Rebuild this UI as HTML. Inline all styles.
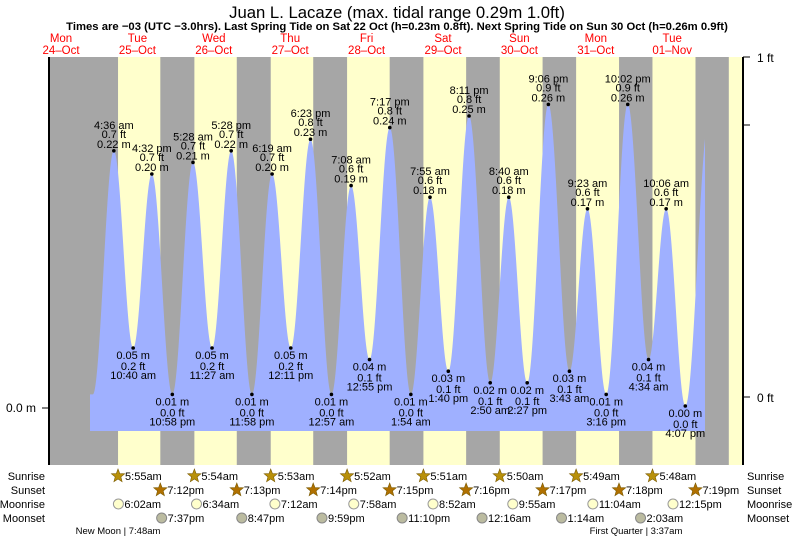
<!DOCTYPE html>
<html><head><meta charset="utf-8"><style>
body{margin:0;background:#fff}
svg{display:block;font-family:"Liberation Sans",sans-serif}
</style></head><body>
<svg id="c" width="793" height="539" viewBox="0 0 793 539"></svg>
<script>
const dayLabels=["Mon","Tue","Wed","Thu","Fri","Sat","Sun","Mon","Tue"];
const dateLabels=["24-Oct","25-Oct","26-Oct","27-Oct","28-Oct","29-Oct","30-Oct","31-Oct","01-Nov"];
const tideDays=[0,1,1,1,1,2,2,2,2,3,3,3,4,4,4,4,5,5,5,5,6,6,6,6,7,7,7,7,8,8,8,8];
const tideTimes=["10:00 pm","4:36 am","10:40 am","4:32 pm","10:58 pm","5:28 am","11:27 am","5:28 pm","11:58 pm","6:19 am","12:11 pm","6:23 pm","12:57 am","7:08 am","12:55 pm","7:17 pm","1:54 am","7:55 am","1:40 pm","8:11 pm","2:50 am","8:40 am","2:27 pm","9:06 pm","3:43 am","9:23 am","3:16 pm","10:02 pm","4:34 am","10:06 am","4:07 pm","11:40 pm"];
const tideMetres=[0.01,0.22,0.05,0.20,0.01,0.21,0.05,0.22,0.01,0.20,0.05,0.23,0.01,0.19,0.04,0.24,0.01,0.18,0.03,0.25,0.02,0.18,0.02,0.26,0.03,0.17,0.01,0.26,0.04,0.17,0.00,0.25];
const tideFeet=["0.0","0.7","0.2","0.7","0.0","0.7","0.2","0.7","0.0","0.7","0.2","0.8","0.0","0.6","0.1","0.8","0.0","0.6","0.1","0.8","0.1","0.6","0.1","0.9","0.1","0.6","0.0","0.9","0.1","0.6","0.0","0.8"];
const tideShown=[0,1,1,1,1,1,1,1,1,1,1,1,1,1,1,1,1,1,1,1,1,1,1,1,1,1,1,1,1,1,1,0];
const sunrise=["5:55am","5:54am","5:53am","5:52am","5:51am","5:50am","5:49am","5:48am"];
const sunset=["7:12pm","7:13pm","7:14pm","7:15pm","7:16pm","7:17pm","7:18pm","7:19pm"];
const moonriseDay=[1,2,3,4,5,6,7,8];
const moonrise=["6:02am","6:34am","7:12am","7:58am","8:52am","9:55am","11:04am","12:15pm"];
const moonsetDay=[1,2,3,4,6,7,8];
const moonset=["7:37pm","8:47pm","9:59pm","11:10pm","12:16am","1:14am","2:03am"];

const NS="http://www.w3.org/2000/svg",svg=document.getElementById('c');
const X0=22.8,PX=76.4,L=49,R=743,T=57,B=465,Y0=406,SC=1160;
function hrs(s){let m=s.match(/(\d+):(\d+)\s*(am|pm)/);let h=+m[1]%12;if(m[3]=="pm")h+=12;return h+ +m[2]/60;}
const xs=(d,h)=>X0+PX*(d+h/24);
const ys=m=>Y0-m*SC;
function el(t,a,p){const e=document.createElementNS(NS,t);for(const k in a)e.setAttribute(k,a[k]);(p||svg).appendChild(e);return e;}
function tx(s,x,y,a){const e=el('text',Object.assign({x:x,y:y,'font-size':10,'text-anchor':'middle',fill:'#000'},a));e.textContent=s;return e;}

let bg=el('rect',{x:L,y:T,width:R-L,height:B-T,fill:'#a6a6a6'});


for(let i=0;i<9;i++){
  const d=i+1;
  const a=xs(d,hrs(i<8?sunrise[i]:"5:47am"));
  const b=i<8?xs(d,hrs(sunset[i])):R;
  const r=el('rect',{x:a,y:T,width:Math.min(b,R)-a,height:B-T,fill:'#ffffcc'});
  
  
}
const pts=tideDays.map((d,i)=>[xs(d,hrs(tideTimes[i])),ys(tideMetres[i])]);
const xStart=90,xEnd=705,yBot=431;
let path="M"+xStart+","+yBot;
for(let x=xStart;x<=xEnd;x+=0.5){
  let k=0;while(k<pts.length-2&&pts[k+1][0]<x)k++;
  const [xa,ya]=pts[k],[xb,yb]=pts[k+1];
  let t=(x-xa)/(xb-xa);t=Math.max(0,Math.min(1,t));
  const y=ya+(yb-ya)*(1-Math.cos(Math.PI*t))/2;
  path+=" L"+x+","+y.toFixed(2);
}
path+=" L"+xEnd+","+yBot+" Z";
let tp=el('path',{d:path,fill:'#9fb0ff'});



pts.forEach((p,i)=>{
  if(!tideShown[i])return;
  const high=tideMetres[i]>tideMetres[i-1];
  const g=el('g',{'font-size':11});
  
  
  el('circle',{cx:p[0],cy:p[1],r:1.8,fill:'#000'},g);
  const m=tideMetres[i].toFixed(2)+" m",f=tideFeet[i]+" ft",t=tideTimes[i];
  const o={'font-size':11};
  if(high){g.appendChild(tx(t,p[0],p[1]-22,o));g.appendChild(tx(f,p[0],p[1]-13,o));g.appendChild(tx(m,p[0],p[1]-3,o));}
  else{g.appendChild(tx(m,p[0],p[1]+11,o));g.appendChild(tx(f,p[0],p[1]+22,o));g.appendChild(tx(t,p[0],p[1]+31,o));}
});

let ax=el('line',{x1:L,y1:T,x2:L,y2:B,stroke:'#000','stroke-width':2});

el('line',{x1:42,y1:408,x2:L,y2:408,stroke:'#000'});
let lt=tx("0.0 m",36,412,{'font-size':12,'text-anchor':'end'});

let ra=el('line',{x1:R,y1:T,x2:R,y2:B,stroke:'#000','stroke-width':2});

[[57,"1 ft"],[125,""],[397,"0 ft"]].forEach(([y,s])=>{el('line',{x1:R,y1:y,x2:R+7,y2:y,stroke:'#000'});if(s){const t=tx(s,757,y+5,{'font-size':12,'text-anchor':'start'});}});

let ti=tx("Juan L. Lacaze (max. tidal range 0.29m 1.0ft)",397,18,{'font-size':16.7});

let st=tx("Times are \u221203 (UTC \u22123.0hrs). Last Spring Tide on Sat 22 Oct (h=0.23m 0.8ft). Next Spring Tide on Sun 30 Oct (h=0.26m 0.9ft)",397,30,{'font-size':11.3,'font-weight':'bold'});

dayLabels.forEach((d,i)=>{const x=61+i*76.4;
  const a=tx(d,x,42,{'font-size':11.5,fill:'#ff0000'});
  const b=tx(dateLabels[i].replace('-','\u2013'),x,54,{'font-size':11.5,fill:'#ff0000'});});

[["Sunrise",476],["Sunset",490],["Moonrise",504],["Moonset",518]].forEach(([s,y])=>{
  const a=tx(s,45,y+4,{'font-size':11,'text-anchor':'end'});
  const b=tx(s,747,y+4,{'font-size':11,'text-anchor':'start'});});
function star(cx,cy,fill){let p="";for(let k=0;k<10;k++){const r=k%2?3:7,a=-Math.PI/2+k*Math.PI/5;p+=(cx+r*Math.cos(a)).toFixed(1)+","+(cy+r*Math.sin(a)).toFixed(1)+" ";}
  return el('polygon',{points:p,fill:fill,stroke:'#7a5a00','stroke-width':0.6});}
sunrise.forEach((s,i)=>{const x=xs(i+1,hrs(s));const g=star(x,476,'#b8900a');
  const t=tx(s,x+7,480,{'font-size':11,'text-anchor':'start'});});
sunset.forEach((s,i)=>{const x=xs(i+1,hrs(s));const g=star(x,490,'#b07000');
  const t=tx(s,x+7,494,{'font-size':11,'text-anchor':'start'});});
moonrise.forEach((s,i)=>{const x=xs(moonriseDay[i],hrs(s));const c=el('circle',{cx:x,cy:504,r:5,fill:'#ffffcc',stroke:'#999'});
  const t=tx(s,x+6,508,{'font-size':11,'text-anchor':'start'});});
moonset.forEach((s,i)=>{const x=xs(moonsetDay[i],hrs(s));const c=el('circle',{cx:x,cy:518,r:5,fill:'#bbbba0',stroke:'#888'});
  const t=tx(s,x+6,522,{'font-size':11,'text-anchor':'start'});});
let nm=tx("New Moon | 7:48am",118,534,{'font-size':9.5});
let fq=tx("First Quarter | 3:37am",636,534,{'font-size':9.5});
</script>
</body></html>
